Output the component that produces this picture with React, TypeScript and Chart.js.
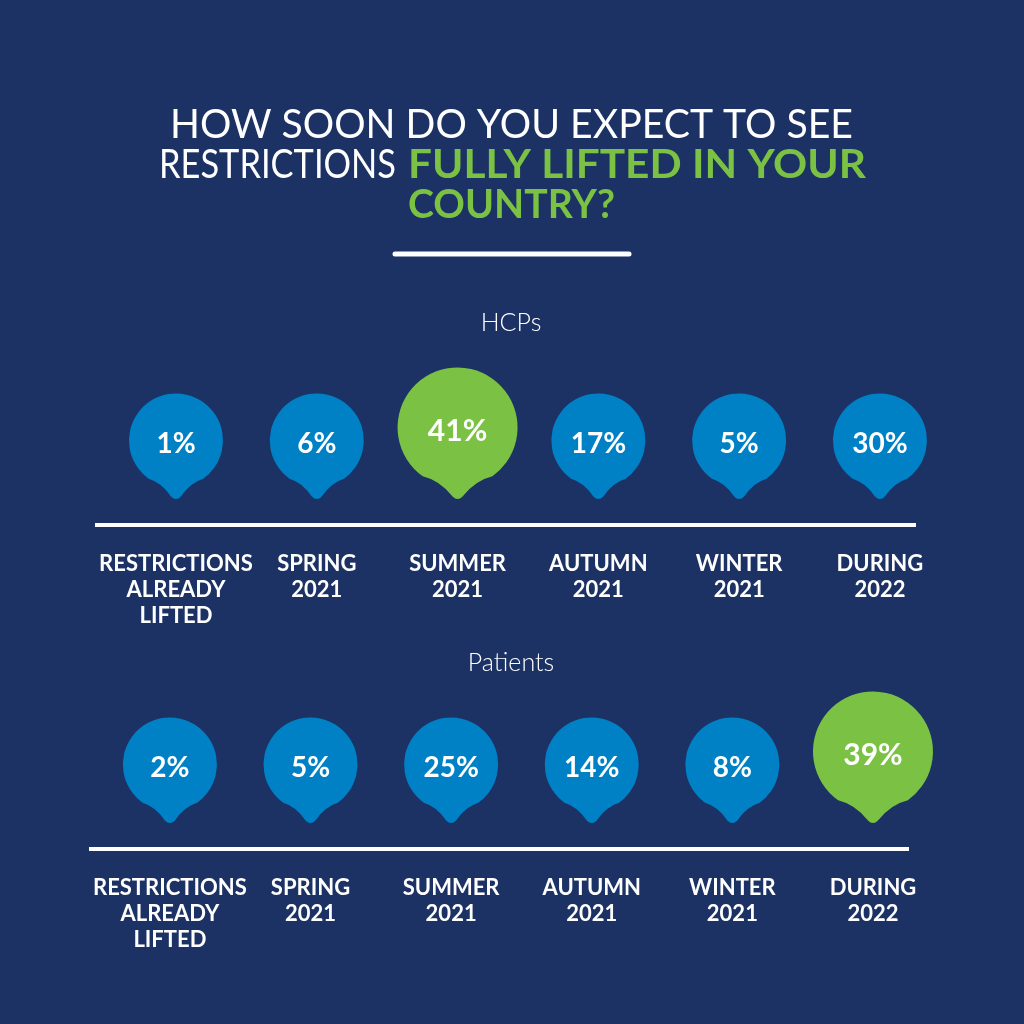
import { useEffect, useRef } from "react";
import { Chart, registerables } from "chart.js";

Chart.register(...registerables);

// Answer categories shown under each row of pins
const categories: string[][] = [
  ["RESTRICTIONS", "ALREADY", "LIFTED"],
  ["SPRING", "2021"],
  ["SUMMER", "2021"],
  ["AUTUMN", "2021"],
  ["WINTER", "2021"],
  ["DURING", "2022"],
];

// Share of respondents (%) per category
const hcpValues = [1, 6, 41, 17, 5, 30];
const patientValues = [2, 5, 25, 14, 8, 39];

const groupNames = ["HCPs", "Patients"];

// Headline, split into lines of plain / highlighted segments (with the span each one fills)
const headline: { text: string; accent: boolean; from: number; to: number }[][] = [
  [{ text: "HOW SOON DO YOU EXPECT TO SEE", accent: false, from: 170, to: 853 }],
  [
    { text: "RESTRICTIONS", accent: false, from: 159, to: 396 },
    { text: "FULLY LIFTED IN YOUR", accent: true, from: 408, to: 866 },
  ],
  [{ text: "COUNTRY?", accent: true, from: 408, to: 615 }],
];

const NAVY = "#1c3265";
const BLUE = "#0080c5";
const GREEN = "#7bc143";
const WHITE = "#ffffff";
const FONT = "Lato, 'Open Sans', sans-serif";

function drawPin(ctx: CanvasRenderingContext2D, cx: number, cy: number, r: number, tipY: number, color: string) {
  const spread = 0.62;
  const down = Math.PI / 2;
  ctx.beginPath();
  ctx.arc(cx, cy, r, down + spread, down - spread + Math.PI * 2);
  const jx = cx + r * Math.sin(spread);
  const jy = cy + r * Math.cos(spread);
  ctx.quadraticCurveTo(cx + r * 0.3, jy + 4, cx + 5, tipY - 4);
  ctx.quadraticCurveTo(cx, tipY + 1, cx - 5, tipY - 4);
  ctx.quadraticCurveTo(cx - r * 0.3, jy + 4, cx - (jx - cx), jy);
  ctx.closePath();
  ctx.fillStyle = color;
  ctx.fill();
}

// Draws a pin with its percentage above every point of the dataset,
// plus the group name above the row
const pinPlugin = {
  id: "pins",
  afterDatasetsDraw(chart: any, _args: any, opts: any) {
    const { ctx, chartArea } = chart;
    const meta = chart.getDatasetMeta(0);
    const points = chart.data.datasets[0].data as { x: number; y: number }[];
    const values = points.map((p) => p.y);
    const top = Math.max(...values);
    const tipY = chartArea.bottom - 25;
    ctx.save();
    ctx.textAlign = "center";
    ctx.textBaseline = "middle";
    meta.data.forEach((el: any, i: number) => {
      const v = values[i];
      const big = v === top;
      const r = big ? 60 : 47;
      const cx = el.x;
      const cy = tipY - 13 - r;
      drawPin(ctx, cx, cy, r, tipY, big ? GREEN : BLUE);
      ctx.fillStyle = WHITE;
      ctx.font = `700 ${big ? 30 : 28}px ${FONT}`;
      ctx.fillText(`${v}%`, cx, cy + 4);
    });
    ctx.fillStyle = WHITE;
    ctx.font = `300 25px ${FONT}`;
    ctx.fillText(opts.name, opts.nameX, chartArea.bottom - opts.nameOffset);
    ctx.restore();
  },
};

// Headline and the short rule beneath it
const headlinePlugin = {
  id: "headline",
  beforeDraw(chart: any) {
    const { ctx } = chart;
    ctx.save();
    ctx.textBaseline = "middle";
    ctx.textAlign = "left";
    headline.forEach((line, li) => {
      const y = 125 + li * 40;
      line.forEach((seg) => {
        ctx.font = seg.accent ? `700 41px ${FONT}` : `400 41px ${FONT}`;
        ctx.fillStyle = seg.accent ? GREEN : WHITE;
        const sx = (seg.to - seg.from) / ctx.measureText(seg.text).width;
        ctx.save();
        ctx.translate(seg.from, y);
        ctx.scale(sx, 1);
        ctx.fillText(seg.text, 0, 0);
        ctx.restore();
      });
    });
    ctx.strokeStyle = WHITE;
    ctx.lineWidth = 5;
    ctx.lineCap = "round";
    ctx.beginPath();
    ctx.moveTo(395, 254);
    ctx.lineTo(629, 254);
    ctx.stroke();
    ctx.restore();
  },
};

function makeConfig(values: number[], name: string, nameOffset: number, padding: any, extraPlugins: any[]): any {
  return {
    type: "scatter",
    data: {
      datasets: [
        {
          data: values.map((v, i) => ({ x: i, y: v })),
          pointRadius: 0,
          pointHoverRadius: 0,
        },
      ],
    },
    plugins: [pinPlugin, ...extraPlugins],
    options: {
      animation: false,
      responsive: false,
      events: [],
      layout: { padding },
      plugins: {
        legend: { display: false },
        tooltip: { enabled: false },
        title: { display: false },
        pins: { name, nameX: 511, nameOffset },
      },
      scales: {
        x: {
          type: "linear",
          bounds: "data",
          min: -0.561,
          max: 5.249,
          grid: { display: false, drawTicks: false },
          border: { display: true, color: WHITE, width: 4 },
          afterBuildTicks: (scale: any) => {
            scale.ticks = categories.map((_, i) => ({ value: i }));
          },
          ticks: {
            color: WHITE,
            font: { family: FONT, size: 22, weight: "700", lineHeight: 1.19 },
            padding: 25,
            maxRotation: 0,
            minRotation: 0,
            autoSkip: false,
            callback: (v: number) => categories[v],
          },
        },
        y: { display: false, min: 0, max: 100 },
      },
    },
  };
}

export default function App() {
  const hcpRef = useRef<HTMLCanvasElement>(null);
  const patientRef = useRef<HTMLCanvasElement>(null);

  useEffect(() => {
    const hcpChart = new Chart(
      hcpRef.current!,
      makeConfig(hcpValues, groupNames[0], 203, { top: 340, left: 97, right: 109, bottom: 370 }, [headlinePlugin])
    );
    const patientChart = new Chart(
      patientRef.current!,
      makeConfig(patientValues, groupNames[1], 187, { top: 680, left: 91, right: 116, bottom: 46 }, [])
    );
    return () => {
      hcpChart.destroy();
      patientChart.destroy();
    };
  }, []);

  const canvasStyle: React.CSSProperties = { position: "absolute", left: 0, top: 0 };
  return (
    <div style={{ position: "fixed", left: 0, top: 0, width: 1024, height: 1024, background: NAVY, overflow: "hidden" }}>
      <canvas ref={hcpRef} width={1024} height={1024} style={canvasStyle} />
      <canvas ref={patientRef} width={1024} height={1024} style={canvasStyle} />
    </div>
  );
}
